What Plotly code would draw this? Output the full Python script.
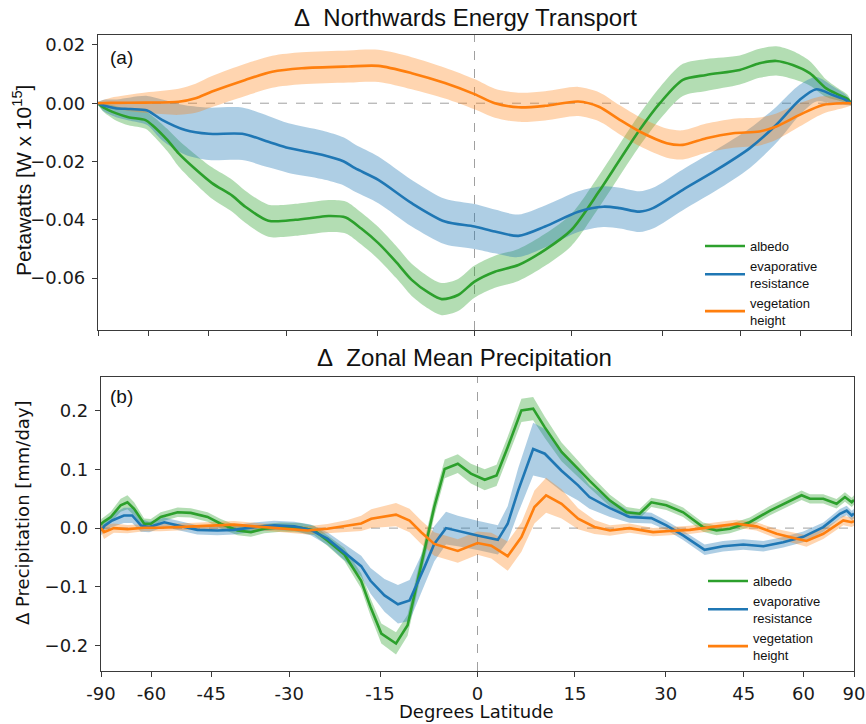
import numpy as np
import plotly.graph_objects as go

# ---------------- DATA ----------------
tick_lats = [-90, -60, -45, -30, -15, 0, 15, 30, 45, 60, 90]
tick_text = ["-90", "-60", "-45", "-30", "-15", "0", "15", "30", "45", "60", "90"]
series_names = ["albedo", "evaporative<br>resistance", "vegetation<br>height"]

# (a) Northwards energy transport [PW]
top_albedo_lat = [-90, -80, -72, -66.8, -60.9, -58.9, -54.7, -51.8, -48, -44.2, -40, -37.5, -33.2, -28.4, -25,
                  -22.8, -20, -17.5, -14.8, -12, -9.6, -7, -5, -2.5, 0, 3.1, 6.7, 10.8, 14.9, 19.3,
                  22.7, 26, 29.5, 33.6, 38, 44.8, 49.2, 53.3, 57.7, 62.9, 69.1, 75.8, 82, 90]
top_albedo_val = [0, -0.0015, -0.0035, -0.0048, -0.0058, -0.0075, -0.0126, -0.0172, -0.0224, -0.0274,
                  -0.0318, -0.0355, -0.0403, -0.0400, -0.0392, -0.0387, -0.0392, -0.0430, -0.0480, -0.0545,
                  -0.0606, -0.0650, -0.0672, -0.0658, -0.0612, -0.0578, -0.0555, -0.0503, -0.0435, -0.0303,
                  -0.0194, -0.0092, 0.0, 0.0080, 0.0097, 0.0114, 0.0137, 0.0145, 0.0131, 0.0103,
                  0.0051, 0.0028, 0.0015, 0.0]
top_albedo_err = [0.0005, 0.0015, 0.0025, 0.0028, 0.003, 0.0032, 0.0038, 0.0045, 0.005, 0.0054,
                  0.0055, 0.0055, 0.0055, 0.0055, 0.0055, 0.0055, 0.0055, 0.0055, 0.0055, 0.0055,
                  0.0055, 0.0055, 0.0055, 0.0055, 0.0055, 0.0055, 0.0055, 0.0055, 0.0055, 0.0055,
                  0.0055, 0.0055, 0.0055, 0.0055, 0.0055, 0.005, 0.005, 0.005, 0.0048, 0.0042,
                  0.003, 0.002, 0.0015, 0.0008]

top_evap_lat = [-90, -80, -72.5, -66, -60.4, -56.1, -50.2, -44.9, -38.1, -33.2, -29.6, -23.9, -20.3, -18.5,
                -14.8, -9.6, -4.5, 0, 3.1, 6.7, 10.8, 16, 20, 22.7, 26, 28.3, 33.6, 40, 47, 53.3,
                59.7, 65.2, 72.1, 80, 90]
top_evap_val = [0, -0.0008, -0.0017, -0.0020, -0.0025, -0.0057, -0.0092, -0.0105, -0.0105, -0.0132,
                -0.0154, -0.0177, -0.0200, -0.0223, -0.0263, -0.0343, -0.0406, -0.0423, -0.0440, -0.0455,
                -0.0423, -0.0372, -0.0355, -0.0360, -0.0372, -0.0360, -0.0297, -0.0229, -0.0154, -0.0074,
                0.0011, 0.0048, 0.0028, 0.0012, 0.0]
top_evap_err = [0.0005, 0.002, 0.003, 0.004, 0.005, 0.007, 0.0085, 0.009, 0.009, 0.0088,
                0.0085, 0.0083, 0.0082, 0.0081, 0.008, 0.008, 0.0078, 0.0077, 0.0075, 0.0073,
                0.0072, 0.007, 0.007, 0.007, 0.007, 0.007, 0.007, 0.007, 0.0068, 0.0062,
                0.0052, 0.0042, 0.003, 0.0018, 0.0008]

top_veg_lat = [-90, -75, -60.9, -51.8, -47.8, -44.2, -37.5, -32.5, -27.3, -19.6, -14.8, -9.6, -4.5, 0, 3.1,
               6.7, 10.8, 16, 19.3, 22.7, 26, 30.7, 33.6, 38, 43.4, 49.2, 53.3, 59.7, 67.7, 80, 90]
top_veg_val = [0, 0.0001, 0.0002, 0.0005, 0.0017, 0.0040, 0.0080, 0.0108, 0.0120, 0.0126,
               0.0128, 0.0103, 0.0069, 0.0031, 0.0, -0.0014, -0.0009, 0.0006, -0.0012, -0.0057,
               -0.0097, -0.0137, -0.0143, -0.0120, -0.0103, -0.0097, -0.0080, -0.0040, -0.0006, 0.0, 0.0]
top_veg_err = [0.0005, 0.0018, 0.0035, 0.0045, 0.005, 0.0053, 0.0055, 0.0055, 0.0055, 0.0055,
               0.0055, 0.0055, 0.0053, 0.0052, 0.005, 0.005, 0.005, 0.005, 0.005, 0.005,
               0.005, 0.005, 0.005, 0.005, 0.005, 0.0048, 0.0045, 0.004, 0.003, 0.0015, 0.0008]

# (b) Zonal mean precipitation [mm/day]
bot_albedo_lat = [-90, -88, -82, -76.9, -71.4, -68.4, -65.8, -62.3, -60.2, -57.3, -52.8, -49.6, -45.8, -43,
                  -39.6, -37, -34.5, -31.5, -28, -25.7, -23.5, -20.7, -18, -16.5, -14.8, -12.5, -10.7,
                  -9.1, -7.6, -6.6, -5, -3, -1, 1.1, 2.9, 4.6, 6.7, 8.5, 10.3, 12.9, 15.5, 17.3, 20.6,
                  23.3, 25.5, 27.5, 30.1, 33.1, 36.8, 39.4, 42.1, 46.3, 51, 56.1, 59.4, 62, 66.7, 72.5,
                  77.4, 83.7, 90]
bot_albedo_val = [0.005, 0.0074, 0.012, 0.019, 0.039, 0.044, 0.033, 0.0074, 0.0074, 0.019,
                  0.027, 0.026, 0.019, 0.0074, -0.004, -0.0068, -0.001, 0.0017, 0.0006, -0.004,
                  -0.021, -0.045, -0.09, -0.135, -0.18, -0.197, -0.166, -0.089, -0.015, 0.036,
                  0.101, 0.110, 0.093, 0.0825, 0.090, 0.138, 0.201, 0.204, 0.172, 0.130,
                  0.101, 0.081, 0.047, 0.027, 0.0245, 0.044, 0.039, 0.027, 0.0017, -0.004,
                  -0.001, 0.010, 0.030, 0.047, 0.056, 0.050, 0.050, 0.0415, 0.053, 0.044, 0.048]
bot_albedo_err = [0.008, 0.008, 0.008, 0.009, 0.011, 0.012, 0.011, 0.009, 0.008, 0.008,
                  0.008, 0.008, 0.008, 0.008, 0.008, 0.008, 0.008, 0.008, 0.008, 0.008,
                  0.009, 0.011, 0.013, 0.015, 0.017, 0.019, 0.018, 0.017, 0.016, 0.016,
                  0.016, 0.016, 0.017, 0.018, 0.018, 0.018, 0.02, 0.02, 0.018, 0.016,
                  0.014, 0.012, 0.01, 0.009, 0.008, 0.008, 0.008, 0.008, 0.008, 0.008,
                  0.008, 0.008, 0.008, 0.008, 0.008, 0.008, 0.008, 0.008, 0.008, 0.008, 0.008]

bot_evap_lat = [-90, -88, -82, -76, -69.9, -66.5, -63.4, -60.7, -56.3, -52.8, -48.1, -43.7, -40.3, -36.4,
                -32.7, -29.1, -26.3, -23.5, -20.7, -18, -16.5, -14.3, -12.2, -10.4, -8.1, -6.6, -4.8, -3,
                0, 3.1, 4.6, 6.2, 8.5, 10.3, 12.9, 15.5, 17.3, 20.6, 23.8, 27.5, 30.1, 33.1, 37.1, 40.7,
                44.9, 49.4, 54.3, 59.9, 66.7, 74.3, 78.7, 83.7, 90]
bot_evap_val = [0, -0.004, 0.004, 0.013, 0.0216, 0.0216, 0.0046, 0.0017, 0.010, 0.0046,
                -0.003, -0.004, -0.003, 0.0017, 0.0046, 0.003, -0.003, -0.018, -0.041, -0.065,
                -0.09, -0.115, -0.130, -0.1235, -0.0666, -0.027, 0.0, -0.005, -0.0125, -0.020,
                0.0074, 0.064, 0.135, 0.127, 0.098, 0.073, 0.053, 0.034, 0.019, 0.017,
                0.0046, -0.0125, -0.037, -0.031, -0.028, -0.031, -0.024, -0.015, 0.0017, 0.0245,
                0.030, 0.0216, 0.025]
bot_evap_err = [0.006, 0.008, 0.009, 0.011, 0.013, 0.013, 0.011, 0.009, 0.008, 0.008,
                0.008, 0.008, 0.008, 0.008, 0.008, 0.008, 0.009, 0.011, 0.014, 0.018,
                0.022, 0.028, 0.033, 0.035, 0.032, 0.03, 0.028, 0.026, 0.025, 0.025,
                0.03, 0.038, 0.045, 0.042, 0.035, 0.026, 0.02, 0.015, 0.01, 0.009,
                0.008, 0.008, 0.009, 0.009, 0.009, 0.009, 0.009, 0.009, 0.008, 0.008,
                0.008, 0.008, 0.008]

bot_veg_lat = [-90, -82.7, -75, -68.4, -62.3, -57.3, -48.8, -40.3, -36.4, -31.5, -26.8, -23.5, -20.2, -18,
               -16.4, -12.5, -10.4, -8.6, -6.6, -3, 0, 2.1, 4.6, 6.7, 8.7, 10.5, 12.9, 15.5, 18.1, 20.6,
               23.8, 27.8, 30.7, 34.3, 39.4, 43.5, 47.8, 52.6, 58, 60.9, 66.7, 72.5, 76.3, 83.7, 90]
bot_veg_val = [0, -0.0068, 0.0, -0.0017, 0.0006, 0.0006, 0.003, 0.006, 0.003, -0.001,
               -0.004, -0.001, 0.004, 0.008, 0.016, 0.023, 0.013, -0.007, -0.027, -0.039,
               -0.0256, -0.030, -0.048, -0.0154, 0.036, 0.056, 0.0415, 0.016, 0.002, -0.004,
               0.0, -0.0068, -0.005, -0.003, 0.003, 0.0074, 0.003, -0.0097, -0.018, -0.022,
               -0.0097, 0.0046, 0.013, 0.010, 0.012]
bot_veg_err = [0.006, 0.012, 0.008, 0.007, 0.006, 0.006, 0.006, 0.006, 0.006, 0.006,
               0.007, 0.008, 0.01, 0.013, 0.016, 0.02, 0.02, 0.02, 0.02, 0.02,
               0.02, 0.022, 0.025, 0.025, 0.028, 0.03, 0.025, 0.018, 0.012, 0.009,
               0.008, 0.007, 0.007, 0.007, 0.007, 0.007, 0.007, 0.008, 0.009, 0.01,
               0.009, 0.008, 0.008, 0.008, 0.008]

# ---------------- STYLE ----------------
GREEN, BLUE, ORANGE = "#2ca02c", "#1f77b4", "#ff7f0e"
BANDS = {GREEN: "rgba(44,160,44,0.36)", BLUE: "rgba(31,119,180,0.36)", ORANGE: "rgba(255,127,14,0.33)"}
TICKFONT = dict(family="DejaVu Sans", size=18, color="#1a1a1a")
SANS = "Liberation Sans"
W, H = 866, 724

fig = go.Figure()

def add_band(lat, val, err, color, xa, ya, shape):
    x = np.sin(np.radians(lat))
    v = np.array(val); e = np.array(err)
    fig.add_trace(go.Scatter(x=x, y=v - e, mode="lines", line=dict(width=0, color=color, shape=shape, smoothing=0.8),
                             hoverinfo="skip", showlegend=False, xaxis=xa, yaxis=ya))
    fig.add_trace(go.Scatter(x=x, y=v + e, mode="lines", line=dict(width=0, color=color, shape=shape, smoothing=0.8),
                             fill="tonexty", fillcolor=BANDS[color], hoverinfo="skip", showlegend=False,
                             xaxis=xa, yaxis=ya))

def add_line(lat, val, color, name, xa, ya, shape, legend):
    x = np.sin(np.radians(lat))
    fig.add_trace(go.Scatter(x=x, y=val, mode="lines", name=name,
                             line=dict(width=2.6, color=color, shape=shape, smoothing=0.8),
                             xaxis=xa, yaxis=ya, legend=legend))

top = [(top_albedo_lat, top_albedo_val, top_albedo_err, GREEN),
       (top_evap_lat, top_evap_val, top_evap_err, BLUE),
       (top_veg_lat, top_veg_val, top_veg_err, ORANGE)]
bot = [(bot_albedo_lat, bot_albedo_val, bot_albedo_err, GREEN),
       (bot_evap_lat, bot_evap_val, bot_evap_err, BLUE),
       (bot_veg_lat, bot_veg_val, bot_veg_err, ORANGE)]

for lat, val, err, c in top:
    add_band(lat, val, err, c, "x", "y", "spline")
for (lat, val, err, c), nm in zip(top, series_names):
    add_line(lat, val, c, nm, "x", "y", "spline", "legend")
for lat, val, err, c in bot:
    add_band(lat, val, err, c, "x2", "y2", "linear")
for (lat, val, err, c), nm in zip(bot, series_names):
    add_line(lat, val, c, nm, "x2", "y2", "linear", "legend2")

tickvals = np.sin(np.radians(tick_lats))
axcommon = dict(showline=True, mirror=True, linecolor="#3a3a3a", linewidth=1.2, ticks="outside",
                ticklen=5, tickwidth=1.2, tickcolor="#3a3a3a", showgrid=False, zeroline=False,
                tickfont=TICKFONT, automargin=False)

legfont = dict(family=SANS, size=13, color="#111")
fig.update_layout(
    width=W, height=H, autosize=False,
    margin=dict(l=0, r=0, t=0, b=0, autoexpand=False),
    paper_bgcolor="white", plot_bgcolor="white",
    xaxis=dict(domain=[98 / W, 851 / W], range=[-1, 1], tickvals=tickvals, ticktext=tick_text,
               showticklabels=False, anchor="y", **axcommon),
    yaxis=dict(domain=[1 - 330 / H, 1 - 35 / H], range=[-0.0778, 0.0234], dtick=0.02, tick0=0,
               tickformat=".2f", anchor="x", ticklabelstandoff=3, **axcommon),
    xaxis2=dict(domain=[101 / W, 854 / W], range=[-1, 1], tickvals=tickvals, ticktext=tick_text,
                anchor="y2", ticklabelstandoff=1, **axcommon),
    yaxis2=dict(domain=[1 - 671 / H, 1 - 377 / H], range=[-0.244, 0.258], dtick=0.1, tick0=0,
                tickformat=".1f", anchor="x2", ticklabelstandoff=3, **axcommon),
    legend=dict(x=700 / W, y=1 - 231 / H, xanchor="left", yanchor="top", font=legfont,
                bgcolor="rgba(0,0,0,0)", itemwidth=40, tracegroupgap=0, traceorder="normal"),
    legend2=dict(x=703 / W, y=1 - 566 / H, xanchor="left", yanchor="top", font=legfont,
                 bgcolor="rgba(0,0,0,0)", itemwidth=40, tracegroupgap=0, traceorder="normal"),
    showlegend=True,
)

# dashed reference lines
for xr, yr in [("x", "y"), ("x2", "y2")]:
    fig.add_shape(type="line", xref=xr, yref=yr + " domain", x0=0, x1=0, y0=0, y1=1,
                  line=dict(color="#a0a0a0", width=1, dash="dash"), layer="below")
    fig.add_shape(type="line", xref=xr + " domain", yref=yr, x0=0, x1=1, y0=0, y1=0,
                  line=dict(color="#a0a0a0", width=1, dash="dash"), layer="below")

ann = [
    dict(text="Δ\u00a0\u00a0Northwards Energy Transport", x=466 / W, y=1 - 17 / H,
         font=dict(family=SANS, size=24, color="#111")),
    dict(text="Δ\u00a0\u00a0Zonal Mean Precipitation", x=464 / W, y=1 - 357 / H,
         font=dict(family=SANS, size=24, color="#111")),
    dict(text="(a)", x=121 / W, y=1 - 58 / H, font=dict(family=SANS, size=19, color="#111")),
    dict(text="(b)", x=121 / W, y=1 - 396 / H, font=dict(family=SANS, size=19, color="#111")),
    dict(text="Petawatts [W x 10<sup>15</sup>]", x=22 / W, y=1 - 181 / H, textangle=-90,
         font=dict(family=SANS, size=21, color="#111")),
    dict(text="Δ Precipitation [mm/day]", x=22 / W, y=1 - 513 / H, textangle=-90,
         font=dict(family="DejaVu Sans", size=18, color="#111")),
    dict(text="Degrees Latitude", x=477 / W, y=0.0, yanchor="bottom",
         font=dict(family="DejaVu Sans", size=18, color="#111")),
]
for a in ann:
    a.setdefault("yanchor", "middle")
    fig.add_annotation(xref="paper", yref="paper", showarrow=False, xanchor="center", **a)

fig.write_html("out.html", config={"displayModeBar": False},
               post_script="document.body.style.margin='0px';document.body.style.overflow='hidden';")
